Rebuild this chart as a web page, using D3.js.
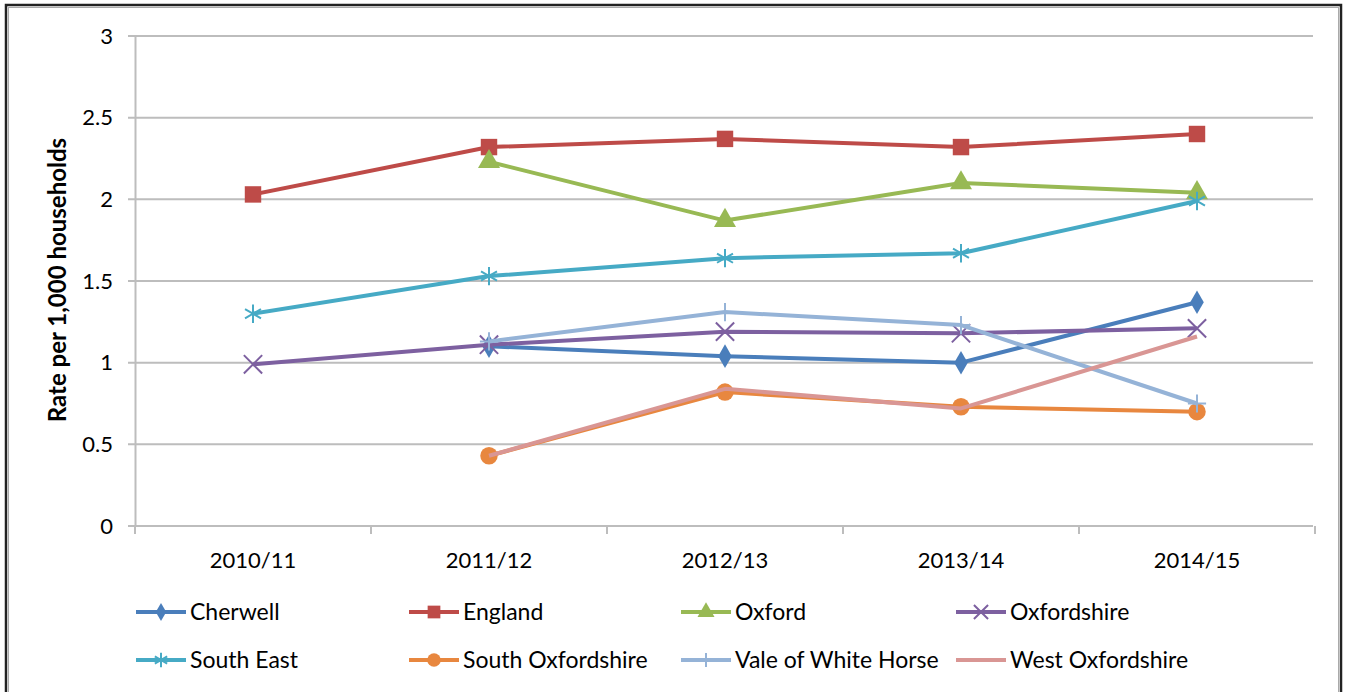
<!DOCTYPE html>
<html>
<head>
<meta charset="utf-8">
<script src="https://cdn.jsdelivr.net/npm/d3@7"></script>
<style>
  body { margin: 0; background: #fff; }
  text { font-family: Lato, "Open Sans", sans-serif; }
</style>
</head>
<body>
<svg id="chart" width="1348" height="692"></svg>
<script>
// ---- data ----
var years = ["2010/11", "2011/12", "2012/13", "2013/14", "2014/15"];
var yTicks = [0, 0.5, 1, 1.5, 2, 2.5, 3];

var cherwell     = [null, 1.10, 1.04, 1.00, 1.37];
var england      = [2.03, 2.32, 2.37, 2.32, 2.40];
var oxford       = [null, 2.23, 1.87, 2.10, 2.04];
var oxfordshire  = [0.99, 1.11, 1.19, 1.18, 1.21];
var southEast    = [1.30, 1.53, 1.64, 1.67, 1.99];
var southOxon    = [null, 0.43, 0.82, 0.73, 0.70];
var valeWH       = [null, 1.13, 1.31, 1.23, 0.75];
var westOxon     = [null, 0.43, 0.84, 0.72, 1.16];

var seriesNames  = ["Cherwell", "England", "Oxford", "Oxfordshire",
                    "South East", "South Oxfordshire", "Vale of White Horse", "West Oxfordshire"];
var seriesValues = [cherwell, england, oxford, oxfordshire, southEast, southOxon, valeWH, westOxon];
var seriesColors = ["#4A7EBB", "#BE4B48", "#98B954", "#7D60A0",
                    "#46AAC5", "#E8873F", "#95B3D7", "#D99694"];
var seriesMarks  = ["diamond", "square", "triangle", "times", "asterisk", "circle", "plus", "none"];

var svg = d3.select("#chart");

// frame
svg.append("rect").attr("x", 6).attr("y", 5).attr("width", 1335).attr("height", 700)
   .attr("fill", "none").attr("stroke", "#222").attr("stroke-width", 2.5);
svg.append("rect").attr("x", 8.5).attr("y", 7.5).attr("width", 1330).attr("height", 700)
   .attr("fill", "none").attr("stroke", "#aaa").attr("stroke-width", 1);

var x = d3.scaleBand().domain(years).range([135, 1315]);
var y = d3.scaleLinear().domain([0, 3]).range([526, 36]);

// gridlines
svg.append("g").selectAll("line").data(yTicks).enter().append("line")
   .attr("x1", 128).attr("x2", 1313)
   .attr("y1", function(d){ return y(d); }).attr("y2", function(d){ return y(d); })
   .attr("stroke", "#bdbdbd").attr("stroke-width", 2);

// y axis
var yAxis = svg.append("g").attr("transform", "translate(135,0)")
   .call(d3.axisLeft(y).tickValues(yTicks).tickSize(0).tickPadding(22)
           .tickFormat(function(d){ return String(d); }));
yAxis.select(".domain").attr("stroke", "#bdbdbd").attr("stroke-width", 2);
yAxis.selectAll("text").attr("font-size", 22).attr("fill", "#000");

// x axis
var xAxis = svg.append("g").attr("transform", "translate(0,526)")
   .call(d3.axisBottom(x).tickSize(0).tickPadding(26));
xAxis.select(".domain").remove();
xAxis.selectAll("text").attr("font-size", 22).attr("fill", "#000");
var bounds = years.map(function(c){ return x(c); }).concat([x.range()[1]]);
svg.append("g").selectAll("line").data(bounds).enter().append("line")
   .attr("x1", function(d){ return d; }).attr("x2", function(d){ return d; })
   .attr("y1", 526).attr("y2", 534)
   .attr("stroke", "#bdbdbd").attr("stroke-width", 2);

// y title
svg.append("text")
   .attr("transform", "translate(58,280) rotate(-90)")
   .attr("text-anchor", "middle").attr("dy", "0.35em")
   .attr("font-size", 24).attr("font-weight", "bold")
   .text("Rate per 1,000 households");

// markers
var symbolTypes = {
  diamond: d3.symbolDiamond, square: d3.symbolSquare, triangle: d3.symbolTriangle,
  circle: d3.symbolCircle, times: d3.symbolTimes, asterisk: d3.symbolAsterisk, plus: d3.symbolPlus
};
var symbolSizes = { diamond: 160, square: 270, triangle: 210, circle: 240, times: 220, asterisk: 240, plus: 110 };
var strokeMarks = { times: true, asterisk: true, plus: true };

function drawMark(g, mark, color, cx, cy, scale) {
  if (mark === "none") return;
  var p = g.append("path")
     .attr("d", d3.symbol().type(symbolTypes[mark]).size(symbolSizes[mark] * scale)())
     .attr("transform", "translate(" + cx + "," + cy + ")");
  if (strokeMarks[mark]) p.attr("fill", "none").attr("stroke", color).attr("stroke-width", 2);
  else p.attr("fill", color);
}

var line = d3.line()
  .defined(function(d){ return d !== null; })
  .x(function(d, i){ return x(years[i]) + x.bandwidth() / 2; })
  .y(function(d){ return y(d); });

seriesNames.forEach(function(name, s) {
  var g = svg.append("g").attr("class", "series");
  g.append("path").datum(seriesValues[s])
   .attr("d", line).attr("fill", "none")
   .attr("stroke", seriesColors[s]).attr("stroke-width", 4)
   .attr("stroke-linejoin", "round");
  seriesValues[s].forEach(function(v, i) {
    if (v === null) return;
    drawMark(g, seriesMarks[s], seriesColors[s], x(years[i]) + x.bandwidth() / 2, y(v), 1);
  });
});

// legend
var legendCols = [136, 409, 681, 956];
var legendRows = [612, 660];
seriesNames.forEach(function(name, s) {
  var lx = legendCols[s % 4], ly = legendRows[Math.floor(s / 4)];
  var g = svg.append("g").attr("class", "legend");
  g.append("line").attr("x1", lx).attr("x2", lx + 50).attr("y1", ly).attr("y2", ly)
   .attr("stroke", seriesColors[s]).attr("stroke-width", 4);
  drawMark(g, seriesMarks[s], seriesColors[s], lx + 25, ly, 0.6);
  g.append("text").attr("x", lx + 54).attr("y", ly).attr("dy", "0.35em")
   .attr("font-size", 23).text(name);
});
</script>
</body>
</html>
